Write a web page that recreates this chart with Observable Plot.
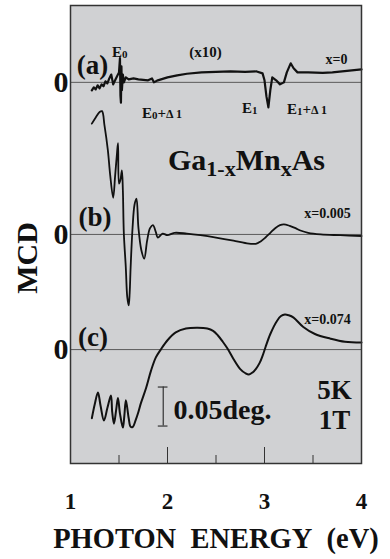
<!DOCTYPE html>
<html><head><meta charset="utf-8">
<script src="https://cdn.jsdelivr.net/npm/d3@7"></script>
<script src="https://cdn.jsdelivr.net/npm/@observablehq/plot@0.6"></script>
<style>body{margin:0;background:#fff}</style>
</head><body><div id="chart"></div>
<script>
// ---- data (MCD in deg; curve (a) shown x10) ----
const curveA_eV  = [1.22,1.24,1.26,1.28,1.30,1.32,1.34,1.36,1.38,1.40,1.42,1.44,1.46,1.48,1.50,1.51,1.515,1.52,1.525,1.53,1.54,1.55,1.57,1.60,1.65,1.70,1.75,1.80,1.84,1.86,1.90,2.00,2.10,2.20,2.35,2.50,2.65,2.80,2.92,2.98,3.00,3.02,3.04,3.06,3.08,3.12,3.16,3.20,3.23,3.27,3.30,3.34,3.45,3.60,3.70,3.80,3.90,4.00];
const curveA_mcd = [-0.0103,-0.0064,-0.009,-0.0038,-0.0077,-0.0026,-0.005,0.0013,-0.0013,0.005,0.010,-0.0026,0.0026,0.0077,0.0128,0.031,-0.017,-0.026,0.0205,-0.010,0.010,0,0.0064,0.0038,0.005,0.0038,0.0032,0.0026,0.005,0,0.0026,0.0064,0.009,0.011,0.0128,0.0135,0.014,0.0135,0.014,0.0115,0.0026,-0.018,-0.032,-0.010,0.0064,0.0026,-0.0026,0,0.0128,0.0244,0.018,0.0128,0.0128,0.0122,0.0128,0.014,0.0154,0.0167];

const curveB_eV  = [1.22,1.26,1.30,1.325,1.35,1.385,1.41,1.44,1.46,1.48,1.49,1.50,1.515,1.53,1.54,1.55,1.57,1.585,1.60,1.61,1.62,1.64,1.66,1.68,1.70,1.73,1.76,1.79,1.82,1.85,1.88,1.90,1.95,2.00,2.07,2.20,2.34,2.50,2.68,2.80,2.91,2.96,3.01,3.06,3.11,3.16,3.20,3.26,3.32,3.37,3.45,3.58,3.78,4.00];
const curveB_mcd = [0.142,0.150,0.157,0.158,0.140,0.108,0.075,0.047,0.075,0.105,0.117,0.065,0.070,0.082,0.056,0.001,-0.042,-0.080,-0.091,-0.075,-0.042,0.009,0.038,0.046,0.009,-0.020,-0.031,-0.008,0.008,0.012,0.003,-0.004,0.001,-0.001,0.002,0.001,-0.001,-0.004,-0.008,-0.011,-0.012,-0.009,-0.004,0.002,0.008,0.012,0.013,0.011,0.008,0.005,0.002,0.000,-0.001,-0.002];

const curveC_eV  = [1.22,1.25,1.283,1.31,1.345,1.38,1.417,1.43,1.448,1.47,1.489,1.51,1.54,1.555,1.571,1.60,1.62,1.643,1.67,1.70,1.725,1.78,1.83,1.88,1.93,2.00,2.085,2.19,2.31,2.41,2.47,2.52,2.57,2.62,2.68,2.75,2.80,2.84,2.88,2.91,2.95,2.98,3.01,3.06,3.13,3.17,3.21,3.25,3.30,3.40,3.52,3.68,3.83,4.00];
const curveC_mcd = [-0.088,-0.070,-0.055,-0.072,-0.091,-0.075,-0.059,-0.080,-0.095,-0.078,-0.062,-0.082,-0.100,-0.085,-0.065,-0.088,-0.099,-0.099,-0.091,-0.080,-0.069,-0.049,-0.027,-0.010,0,0.012,0.022,0.027,0.028,0.027,0.024,0.018,0.010,0.001,-0.012,-0.025,-0.030,-0.032,-0.029,-0.025,-0.017,-0.008,0.003,0.020,0.037,0.043,0.045,0.044,0.041,0.029,0.020,0.014,0.010,0.009];

const seriesNames   = ["(a)", "(b)", "(c)"];
const seriesX       = ["x=0", "x=0.005", "x=0.074"];
const zeroOffsets   = [0.3425, 0.1476, 0];
const xTickLabels   = [1, 2, 3, 4];
const majorTicks    = [2, 3];
const minorTicks    = [1.5, 2.5, 3.5];
const scaleBarDeg   = 0.05;

// ---- build tables ----
const curves = [[curveA_eV, curveA_mcd], [curveB_eV, curveB_mcd], [curveC_eV, curveC_mcd]];
const rows = curves.flatMap(([ev, v], k) => ev.map((e, i) => ({series: seriesNames[k], e, y: v[i] + zeroOffsets[k]})));
const zeros = zeroOffsets.map((o, k) => ({series: seriesNames[k], y: o}));

const FONT = "'Liberation Serif','Times New Roman',serif";
const BG = "#d0d1d3";

// annotation anchors (data units)
const panelLabels = [
  {t: "(a)", e: 1.227, y: 0.364},
  {t: "(b)", e: 1.253, y: 0.1694},
  {t: "(c)", e: 1.232, y: 0.0155}
];
const xLabels = [
  {t: seriesX[0], e: 3.742, y: 0.372},
  {t: seriesX[1], e: 3.649, y: 0.1745},
  {t: seriesX[2], e: 3.649, y: 0.0386}
];
const condLabels = [
  {t: "5K", e: 3.722, y: -0.0518},
  {t: "1T", e: 3.722, y: -0.0902}
];
const bar = {e: 1.956, y1: -0.098, capL: 1.905, capR: 2.005};

const plot = Plot.plot({
  width: 390, height: 559,
  marginLeft: 70, marginRight: 29, marginTop: 5, marginBottom: 96,
  style: {fontFamily: FONT, background: "#fff", overflow: "visible"},
  x: {domain: [1, 4]},
  y: {domain: [-0.146, 0.441], axis: null},
  marks: [
    Plot.frame({fill: BG}),
    Plot.ruleY(zeros, {y: "y", stroke: "#5a5a5a", strokeWidth: 1}),
    Plot.line(rows.filter(d => d.series === "(a)"), {x: "e", y: "y", stroke: "#111", strokeWidth: 2.2}),
    Plot.line(rows.filter(d => d.series === "(b)"), {x: "e", y: "y", stroke: "#111", strokeWidth: 1.8, curve: "catmull-rom"}),
    Plot.line(rows.filter(d => d.series === "(c)"), {x: "e", y: "y", stroke: "#111", strokeWidth: 2, curve: "catmull-rom"}),
    // scale bar
    Plot.ruleX([bar], {x: "e", y1: "y1", y2: d => d.y1 + scaleBarDeg, stroke: "#333", strokeWidth: 1.2}),
    Plot.ruleY([bar.y1, bar.y1 + scaleBarDeg], {y: d => d, x1: bar.capL, x2: bar.capR, stroke: "#333", strokeWidth: 1.2}),
    // inward ticks
    Plot.axisX({ticks: majorTicks, tickSize: -16, tickFormat: () => "", label: null, stroke: "#333"}),
    Plot.axisX({ticks: minorTicks, tickSize: -8, tickFormat: () => "", label: null, stroke: "#333"}),
    Plot.axisX({ticks: xTickLabels, tickSize: 0, tickPadding: 29, fontSize: 23, fontWeight: "bold", label: null, tickFormat: d => String(d), fill: "#111"}),
    Plot.frame({stroke: "#333", strokeWidth: 1.5}),
    // texts
    Plot.text(zeros, {x: 1, y: "y", text: () => "0", textAnchor: "end", dx: -2, fontSize: 30, fontWeight: "bold", lineAnchor: "middle", fill: "#111"}),
    Plot.text(panelLabels, {x: "e", y: "y", text: "t", fontSize: 27, fontWeight: "bold", lineAnchor: "middle", fill: "#111"}),
    Plot.text(xLabels, {x: "e", y: "y", text: "t", fontSize: 14, fontWeight: "bold", lineAnchor: "middle", fill: "#111"}),
    Plot.text([{t: "(x10)", e: 2.392, y: 0.381}], {x: "e", y: "y", text: "t", fontSize: 15, fontWeight: "bold", lineAnchor: "middle", fill: "#111"}),
    Plot.text(condLabels, {x: "e", y: "y", text: "t", fontSize: 27, fontWeight: "bold", lineAnchor: "middle", fill: "#111"}),
    Plot.text([{t: "0.05deg.", e: 2.062, y: -0.0774}], {x: "e", y: "y", text: "t", textAnchor: "start", fontSize: 28, fontWeight: "bold", lineAnchor: "middle", fill: "#111"}),
    Plot.text([{t: "MCD", e: 0.5515, y: 0.1175}], {x: "e", y: "y", text: "t", rotate: -90, fontSize: 30, fontWeight: "bold", lineAnchor: "middle", fill: "#111"}),
    Plot.text([{t: "PHOTON\u00a0\u00a0ENERGY\u00a0\u00a0(eV)"}], {frameAnchor: "bottom", text: "t", dy: 75, fontSize: 28.5, fontWeight: "bold", lineAnchor: "middle", fill: "#111"})
  ]
});

document.getElementById("chart").appendChild(plot);

// rich labels with subscripts, positioned through the plot's scales
const sx = plot.scale("x"), sy = plot.scale("y");
const svg = d3.select(plot);
function rich(e, yv, parts, size) {
  const t = svg.append("text")
    .attr("x", sx.apply(e)).attr("y", sy.apply(yv))
    .attr("text-anchor", "start")
    .attr("font-family", FONT).attr("font-weight", "bold")
    .attr("font-size", size).attr("fill", "#111");
  let cur = 0;
  for (const p of parts) {
    const shift = p.shift || 0;
    const ts = t.append("tspan").text(p.t).attr("dy", shift - cur);
    if (p.size) ts.attr("font-size", p.size);
    cur = shift;
  }
}
rich(1.433, 0.3745, [{t: "E"}, {t: "0", size: 11, shift: 1}], 15);
rich(1.742, 0.2963, [{t: "E"}, {t: "0", size: 11, shift: 1}, {t: "+"}, {t: "\u0394 1", size: 12}], 15);
rich(2.773, 0.3027, [{t: "E"}, {t: "1", size: 11, shift: 1}], 15);
rich(3.237, 0.3014, [{t: "E"}, {t: "1", size: 11, shift: 1}, {t: "+"}, {t: "\u0394 1", size: 12}], 15);
rich(2.01, 0.2296, [{t: "Ga"}, {t: "1-x", size: 22, shift: 6}, {t: "Mn"}, {t: "x", size: 22, shift: 6}, {t: "As"}], 30);
</script>
</body></html>
